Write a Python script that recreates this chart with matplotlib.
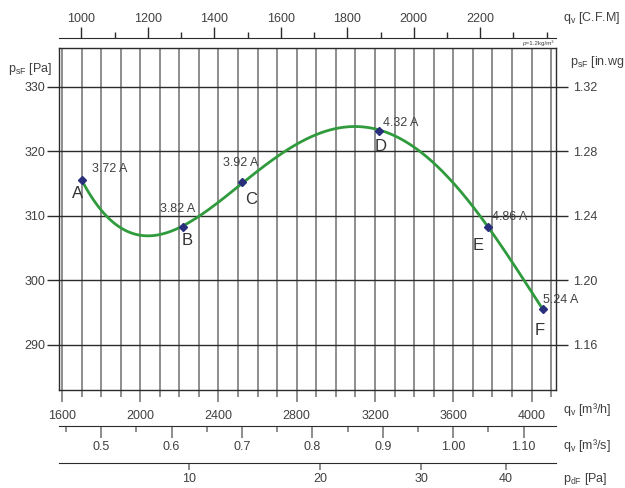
import numpy
import matplotlib
matplotlib.use("Agg")
import matplotlib.pyplot as plt

# operating points
point_names = ["A", "B", "C", "D", "E", "F"]
flow_m3h = [1700, 2217, 2522, 3221, 3779, 4057]
static_pa = [315.6, 308.3, 315.2, 323.2, 308.3, 295.5]
current_labels = ["3.72 A", "3.82 A", "3.92 A", "4.32 A", "4.86 A", "5.24 A"]

# axis ticks
m3h_major = [1600, 2000, 2400, 2800, 3200, 3600, 4000]
m3h_grid = list(range(1600, 4101, 100))
pa_ticks = [290, 300, 310, 320, 330]
cfm_major = [1000, 1200, 1400, 1600, 1800, 2000, 2200]
cfm_minor = [1100, 1300, 1500, 1700, 1900, 2100, 2300, 2400]
m3s_major = [0.5, 0.6, 0.7, 0.8, 0.9, 1.0, 1.1]
m3s_labels = ["0.5", "0.6", "0.7", "0.8", "0.9", "1.00", "1.10"]
m3s_minor = [0.45, 0.55, 0.65, 0.75, 0.85, 0.95, 1.05]
pd_ticks = [10, 20, 30, 40]

# label offsets in pixels (current label, letter)
cur_off = [(10, 11), (-23, 18), (-19, 19), (4, 8), (4, 10), (0, 9)]
let_off = [(-4, -14), (5, -14), (9, -17), (2, -16), (-10, -19), (-3, -21)]

CFM = 1.69901  # m3/h per cfm
PD_C, PD_K = 633.0, 511.6  # dynamic pressure scale as printed on the chart

plt.rcParams["font.family"] = ["Liberation Sans", "DejaVu Sans"]
plt.rcParams["font.size"] = 9
plt.rcParams["mathtext.fontset"] = "custom"
plt.rcParams["mathtext.rm"] = "Liberation Sans"
plt.rcParams["mathtext.it"] = "Liberation Sans:italic"

W, H = 625, 488
TXT = "#404040"
DARK = "#2b2b2b"
GRIDV = "#858585"

fig = plt.figure(figsize=(W / 100, H / 100), dpi=100)
L, R, T, B = 59, 556, 48, 390
ax = fig.add_axes([L / W, 1 - B / H, (R - L) / W, (B - T) / H])
ax.set_xlim(1585, 4125)
ax.set_ylim(283, 336)

for s in ax.spines.values():
    s.set_color(DARK)
    s.set_linewidth(1)

ax.set_xticks(m3h_major)
ax.set_xticks([q for q in m3h_grid if q not in m3h_major], minor=True)
ax.grid(True, which="both", axis="x", color=GRIDV, lw=1.3)
ax.tick_params(axis="x", which="major", direction="out", length=8.5, width=1.3,
               color=GRIDV, labelcolor=TXT, pad=6)
ax.tick_params(axis="x", which="minor", direction="out", length=5, width=1.3, color=GRIDV)

ax.set_yticks(pa_ticks)
ax.grid(True, axis="y", color=DARK, lw=1)
ax.tick_params(axis="y", direction="out", length=9, width=1, color=DARK,
               labelcolor=TXT, pad=0.5)

# right axis in inches of water
ax_r = ax.secondary_yaxis("right")
ax_r.set_yticks(pa_ticks, labels=["%.2f" % (p / 249.09) for p in pa_ticks])
ax_r.tick_params(direction="out", length=8.5, width=1, color=DARK, labelcolor=TXT, pad=3.5)
ax_r.spines["right"].set_visible(False)

# top axis in C.F.M
ax_t = ax.secondary_xaxis(1 + 10 / (B - T), functions=(lambda q: q / CFM, lambda c: c * CFM))
ax_t.set_xticks(cfm_major)
ax_t.set_xticks(cfm_minor, minor=True)
ax_t.tick_params(which="major", direction="out", length=8, width=1, color=DARK,
                 labelcolor=TXT, pad=1)
ax_t.tick_params(which="minor", direction="out", length=4.5, width=1, color=DARK)
ax_t.spines["top"].set_color(DARK)

# m3/s axis
ax_s = ax.secondary_xaxis(-(426 - B) / (B - T), functions=(lambda q: q / 3600, lambda s: s * 3600))
ax_s.set_xticks(m3s_major, labels=m3s_labels)
ax_s.set_xticks(m3s_minor, minor=True)
ax_s.tick_params(which="major", direction="out", length=8.5, width=1.3, color=GRIDV,
                 labelcolor=TXT, pad=2)
ax_s.tick_params(which="minor", direction="out", length=4.5, width=1.3, color=GRIDV)
ax_s.spines["bottom"].set_color(DARK)

# dynamic pressure axis
def q_to_pd(q):
    return (numpy.maximum(numpy.asarray(q, float) - PD_C, 0) / PD_K) ** 2

def pd_to_q(p):
    return PD_C + PD_K * numpy.sqrt(numpy.maximum(numpy.asarray(p, float), 0))

ax_d = ax.secondary_xaxis(-(463 - B) / (B - T), functions=(q_to_pd, pd_to_q))
ax_d.set_xticks(pd_ticks)
ax_d.tick_params(direction="out", length=5, width=1.3, color=GRIDV, labelcolor=TXT, pad=2.5)
ax_d.spines["bottom"].set_color(DARK)

# fan curve, 4th degree fit through the operating points
fit = numpy.polyfit(numpy.array(flow_m3h) / 1000, static_pa, 4)
qq = numpy.linspace(flow_m3h[0], flow_m3h[-1], 300)
ax.plot(qq, numpy.polyval(fit, qq / 1000), color="#2f9b3d", lw=2, zorder=3)
ax.plot(flow_m3h, static_pa, "D", color="#2a2f7c", ms=4.5, zorder=4)

for i, name in enumerate(point_names):
    ax.annotate(current_labels[i], (flow_m3h[i], static_pa[i]), xytext=cur_off[i],
                textcoords="offset pixels", ha="left", va="center", color=TXT, fontsize=9)
    ax.annotate(name, (flow_m3h[i], static_pa[i]), xytext=let_off[i],
                textcoords="offset pixels", ha="center", va="center", color="#333333", fontsize=12)

def ftext(x, y, s, **kw):
    fig.text(x / W, 1 - y / H, s, color=TXT, va="center", **kw)

ftext(563, 18, r"q$_\mathregular{v}$ [C.F.M]")
ftext(563, 410, r"q$_\mathregular{v}$ [m³/h]")
ftext(563, 445, r"q$_\mathregular{v}$ [m³/s]")
ftext(563, 479, r"p$_\mathregular{dF}$ [Pa]")
ftext(8, 69, r"p$_\mathregular{sF}$ [Pa]")
ftext(570, 62, r"p$_\mathregular{sF}$ [in.wg")
ftext(554, 43, "ρ=1.2kg/m³", fontsize=4.5, ha="right")

fig.savefig("out.png", dpi=100)
